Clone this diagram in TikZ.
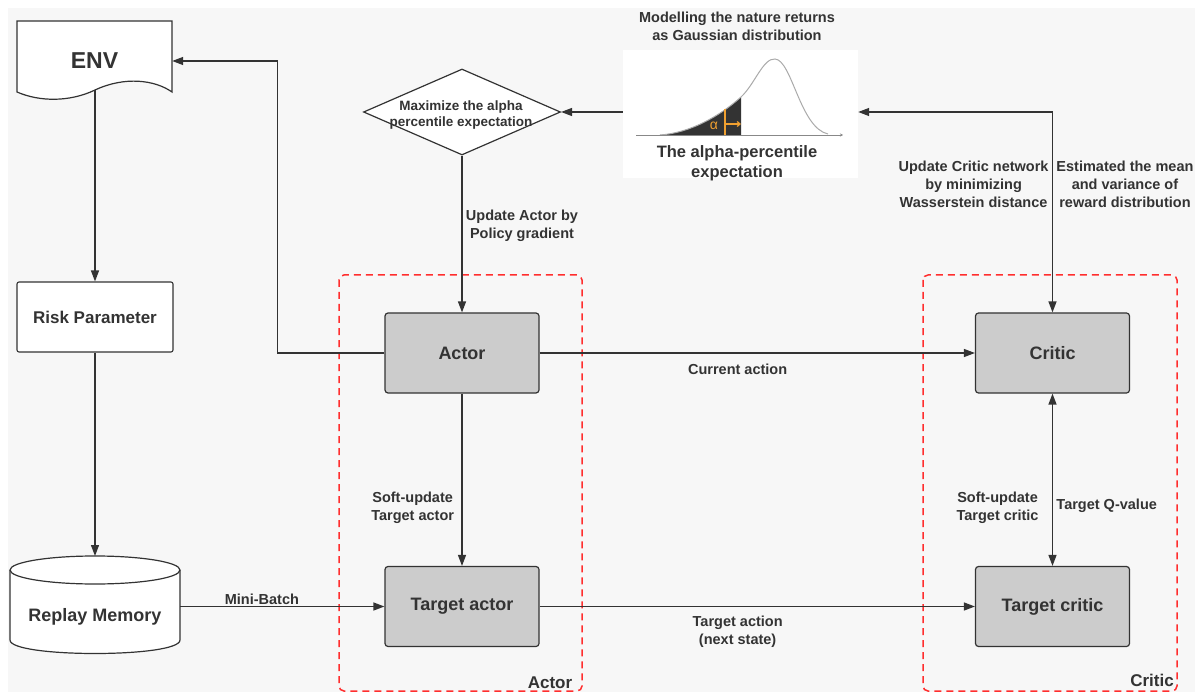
\documentclass[tikz,border=0pt]{standalone}
\usepackage{fontspec}
\setmainfont{Liberation Sans}
\usetikzlibrary{arrows.meta,shapes.geometric}
\definecolor{ink}{HTML}{333333}
\definecolor{boxfill}{HTML}{CCCCCC}
\definecolor{bg}{HTML}{F7F7F7}
\definecolor{redd}{HTML}{FF2E2E}
\definecolor{orng}{HTML}{F0A030}
\definecolor{curve}{HTML}{AAAAAA}
\begin{document}
\begin{tikzpicture}[x=1pt,y=-1pt,
  net/.style={draw=ink, fill=boxfill, line width=1.2pt, rounded corners=3pt,
    minimum width=154, minimum height=80, font=\fontsize{18}{21}\selectfont\bfseries, text=ink},
  wbox/.style={draw=ink, fill=white, line width=1.1pt, rounded corners=2pt,
    minimum width=156, minimum height=70, font=\fontsize{17}{20}\selectfont\bfseries, text=ink},
  tip/.tip={Triangle[length=11pt,width=8pt]},
  arr/.style={draw=ink, line width=1.3pt, -tip},
  lbl/.style={font=\fontsize{14.5}{18}\selectfont\bfseries, text=ink, align=center},
  grp/.style={draw=redd, line width=1.5pt, dash pattern=on 7pt off 5pt, rounded corners=5pt},
  grplbl/.style={font=\fontsize{17}{20}\selectfont\bfseries, text=ink}
]
\useasboundingbox (0,0) rectangle (1203,695);
\fill[white] (0,0) rectangle (1203,695);
\fill[bg] (8,8) rectangle (1195,692);

% group boxes
\draw[grp] (339,275) rectangle (582,691);
\draw[grp] (923,275) rectangle (1177,691);
\node[grplbl] (glA) at (550,683) {Actor};
\node[grplbl] (glC) at (1152,680) {Critic};

% ENV document shape
\draw[ink, line width=1.2pt, fill=white] (17,21) -- (172,21) -- (172,92)
  .. controls (155,80) and (125,76) .. (95,90)
  .. controls (70,102) and (40,102) .. (17,92) -- cycle;
\node[font=\fontsize{23}{26}\selectfont\bfseries, text=ink, minimum width=155, minimum height=80] (env) at (94.5,61) {ENV};
\coordinate (envb) at (95,90);

% Risk parameter
\node[wbox] (risk) at (95,317) {Risk Parameter};

% Replay memory cylinder
\draw[ink, line width=1.2pt, fill=white] (10,570) -- (10,640)
  .. controls (10,658) and (180,658) .. (180,640) -- (180,570);
\draw[ink, line width=1.2pt, fill=white] (95,570) ellipse [x radius=85, y radius=14];
\coordinate (memtop) at (95,556);
\node[font=\fontsize{18}{21}\selectfont\bfseries, text=ink, minimum width=170, minimum height=24] (mem) at (95,617) {Replay Memory};

% network boxes
\node[net] (actor) at (462,353) {Actor};
\node[net] (tactor) at (462,606.5) {Target actor};
\node[net] (critic) at (1052.5,353) {Critic};
\node[net] (tcritic) at (1052.5,606.5) {Target critic};

% diamond
\node[diamond, draw=ink, fill=white, line width=1.2pt, aspect=2.29, inner sep=0pt,
  minimum width=197, minimum height=86] (dia) at (462,112) {};
\node[font=\fontsize{13.5}{16.5}\selectfont\bfseries, text=ink, align=center] (diatxt) at (461,115) {Maximize the alpha\\percentile expectation};

% Gaussian picture
\node[fill=white, minimum width=235, minimum height=128, inner sep=0pt] (gauss) at (740.5,114) {};
\fill[ink] (660,135) .. controls (690,133) and (720,116) .. (741,97) -- (741,135) -- cycle;
\draw[curve, line width=1pt] (660,135) .. controls (690,133) and (720,116) .. (741,97)
  .. controls (755,84) and (763,58) .. (775,59)
  .. controls (792,60) and (800,128) .. (828,134);
\draw[curve!80!black, line width=0.8pt, -{Stealth[length=3pt,width=3pt]}] (636,135) -- (843,135);
\draw[orng, line width=1.2pt] (725,109) -- (725,135);
\draw[orng, line width=1.2pt, -{Straight Barb[length=3pt,width=5pt]}] (725,124) -- (741,124);
\node[text=orng, font=\fontsize{14}{16}\selectfont] (alph) at (714,126) {α};
\node[font=\fontsize{14.5}{18}\selectfont\bfseries, text=ink, align=center] (gtop) at (737,26) {Modelling the nature returns\\as Gaussian distribution};
\node[font=\fontsize{16.5}{20}\selectfont\bfseries, text=ink, align=center] (gbot) at (737,163) {The alpha-percentile\\expectation};

% connectors
\draw[arr] (actor.west) -- ++(-107,0) |- (env.east);
\draw[arr] (envb) -- (risk.north);
\draw[arr] (risk.south) -- (memtop);
\draw[arr] (mem.east |- tactor.west) -- node[lbl, above, pos=0.4, inner sep=1pt] {Mini-Batch} (tactor.west);
\draw[arr] (gauss.west |- dia.east) -- (dia.east);
\draw[arr] (dia.south) -- node[lbl, anchor=west, pos=0.45] {Update Actor by\\Policy gradient} (actor.north);
\draw[arr] (actor.east) -- node[lbl, below, inner sep=10pt, pos=0.455] {Current action} (critic.west);
\draw[arr] (actor.south) -- node[lbl, anchor=east, pos=0.66, xshift=-4pt] {Soft-update\\Target actor} (tactor.north);
\draw[arr] (tactor.east) -- node[lbl, below, inner sep=9pt, pos=0.455] {Target action\\(next state)} (tcritic.west);
\draw[arr, tip-tip] (critic.south) -- node[lbl, anchor=east, pos=0.66, xshift=-10pt] {Soft-update\\Target critic}
  node[lbl, anchor=west, pos=0.65] {Target Q-value} (tcritic.north);
\draw[arr, tip-tip] (gauss.east |- dia.east) -| node[lbl, anchor=east, pos=0.68] {Update Critic network\\by minimizing\\Wasserstein distance}
  node[lbl, anchor=west, pos=0.68] {Estimated the mean\\and variance of\\reward distribution} (critic.north);
\end{tikzpicture}
\end{document}
